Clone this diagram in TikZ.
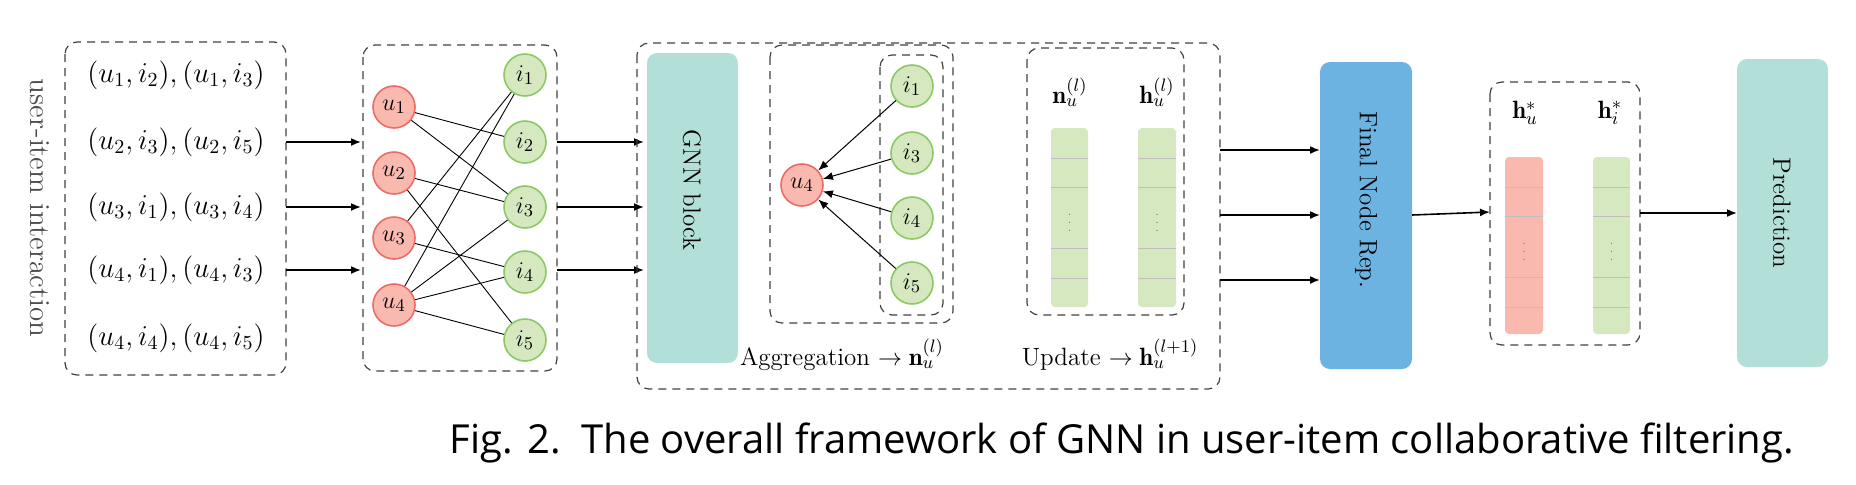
\documentclass[tikz,border=0pt]{standalone}
\usepackage{fontspec}
\newfontfamily\capfont{Open Sans}
\usetikzlibrary{arrows.meta}
\definecolor{rfill}{HTML}{F9B9AE}
\definecolor{rline}{HTML}{EE6A66}
\definecolor{gfill}{HTML}{D5E8C0}
\definecolor{gline}{HTML}{8CC864}
\definecolor{teal}{HTML}{B3DFD9}
\definecolor{blu}{HTML}{6CB3E2}
\begin{document}
\begin{tikzpicture}[x=0.5pt,y=-0.5pt,
  dbox/.style={draw=black!75,dashed,dash pattern=on 4pt off 3pt,rounded corners=6pt,line width=0.6pt},
  unode/.style={circle,draw=rline,fill=rfill,line width=0.8pt,minimum size=21pt,inner sep=0pt,font=\fontsize{13}{15}\selectfont},
  inode/.style={circle,draw=gline,fill=gfill,line width=0.8pt,minimum size=21pt,inner sep=0pt,font=\fontsize{13}{15}\selectfont},
  blk/.style={rounded corners=5pt,draw=none},
  arr/.style={-{Latex[length=5pt,width=4pt]},line width=0.8pt},
  edge/.style={line width=0.45pt},
  txt/.style={font=\fontsize{12.5}{15}\selectfont},
  ptxt/.style={font=\fontsize{14.5}{17}\selectfont}]
\useasboundingbox (0,0) rectangle (1856,484);
% box 1
\draw[dbox] (65,42) rectangle (286,375);
\node[ptxt] (p1) at (176,75) {$(u_1,i_2),(u_1,i_3)$};
\node[ptxt] (p2) at (176,142) {$(u_2,i_3),(u_2,i_5)$};
\node[ptxt] (p3) at (176,207) {$(u_3,i_1),(u_3,i_4)$};
\node[ptxt] (p4) at (176,270) {$(u_4,i_1),(u_4,i_3)$};
\node[ptxt] (p5) at (176,338) {$(u_4,i_4),(u_4,i_5)$};
\node[ptxt,rotate=-90,text=black!70] (lab) at (40,208) {user-item interaction};
\foreach \y in {142,207,270}{\draw[arr] (286,\y) -- (361,\y);}
% box 2
\draw[dbox] (363,45) rectangle (557,371);
\node[unode] (u1) at (394,107) {$u_1$};
\node[unode] (u2) at (394,173) {$u_2$};
\node[unode] (u3) at (394,238) {$u_3$};
\node[unode] (u4) at (394,305) {$u_4$};
\node[inode] (i1) at (525,75) {$i_1$};
\node[inode] (i2) at (525,142) {$i_2$};
\node[inode] (i3) at (525,207) {$i_3$};
\node[inode] (i4) at (525,272) {$i_4$};
\node[inode] (i5) at (525,340) {$i_5$};
\foreach \a/\b in {u1/i2,u1/i3,u2/i3,u2/i5,u3/i1,u3/i4,u4/i1,u4/i3,u4/i4,u4/i5}{\draw[edge] (\a) -- (\b);}
\foreach \y in {142,207,270}{\draw[arr] (557,\y) -- (644,\y);}
% big box
\draw[dbox] (637,43) rectangle (1220,389);
\fill[teal,blk] (647,53) rectangle (738,363);
\node[txt,rotate=-90] (gnn) at (692,190) {GNN block};
\draw[dbox] (770,45) rectangle (953,323);
\draw[dbox] (880,55) rectangle (943,315);
\node[unode] (a4) at (802,185) {$u_4$};
\node[inode] (b1) at (912,86) {$i_1$};
\node[inode] (b3) at (912,153) {$i_3$};
\node[inode] (b4) at (912,218) {$i_4$};
\node[inode] (b5) at (912,283) {$i_5$};
\foreach \b in {b1,b3,b4,b5}{\draw[-{Latex[length=5pt,width=4pt]},line width=0.5pt] (\b) -- (a4);}
\node[txt] (agg) at (842,355) {Aggregation $\rightarrow \mathbf{n}_u^{(l)}$};
\draw[dbox] (1027,48) rectangle (1184,315);
\node[txt] (nl) at (1070,92) {$\mathbf{n}_u^{(l)}$};
\node[txt] (hl) at (1157,92) {$\mathbf{h}_u^{(l)}$};
\foreach \xa/\xb/\fc in {1051/1088/gfill,1138/1176/gfill}{
  \fill[\fc,rounded corners=2pt] (\xa,128) rectangle (\xb,307);
  \foreach \yy in {158,187,248,278}{\draw[black!25,line width=0.5pt] (\xa,\yy) -- (\xb,\yy);}
  \node[font=\tiny,text=black!60,inner sep=0pt] at ({(\xa+\xb)/2},217) {$\vdots$};
}
\node[txt] (upd) at (1110,355) {Update $\rightarrow \mathbf{h}_u^{(l+1)}$};
\foreach \y in {150,215,280}{\draw[arr] (1220,\y) -- (1320,\y);}
\fill[blu,blk] (1320,62) rectangle (1412,369);
\node[txt,rotate=-90] (fin) at (1366,200) {Final Node Rep.};
\draw[arr] (1412,215) -- (1490,212);
% h* box
\draw[dbox] (1490,82) rectangle (1640,345);
\node[txt] (hu) at (1525,113) {$\mathbf{h}_u^{*}$};
\node[txt] (hi) at (1610,113) {$\mathbf{h}_i^{*}$};
\foreach \xa/\xb/\fc in {1505/1543/rfill,1593/1630/gfill}{
  \fill[\fc,rounded corners=2pt] (\xa,157) rectangle (\xb,334);
  \foreach \yy in {187,216,277,307}{\draw[black!25,line width=0.5pt] (\xa,\yy) -- (\xb,\yy);}
  \node[font=\tiny,text=black!60,inner sep=0pt] at ({(\xa+\xb)/2},246) {$\vdots$};
}
\draw[arr] (1640,213) -- (1737,213);
\fill[teal,blk] (1737,59) rectangle (1828,367);
\node[txt,rotate=-90] (pred) at (1782,213) {Prediction};
\node[font=\capfont\fontsize{20}{24}\selectfont] (cap) at (1122,443) {Fig. 2.\ \ The overall framework of GNN in user-item collaborative filtering.};
\end{tikzpicture}
\end{document}
